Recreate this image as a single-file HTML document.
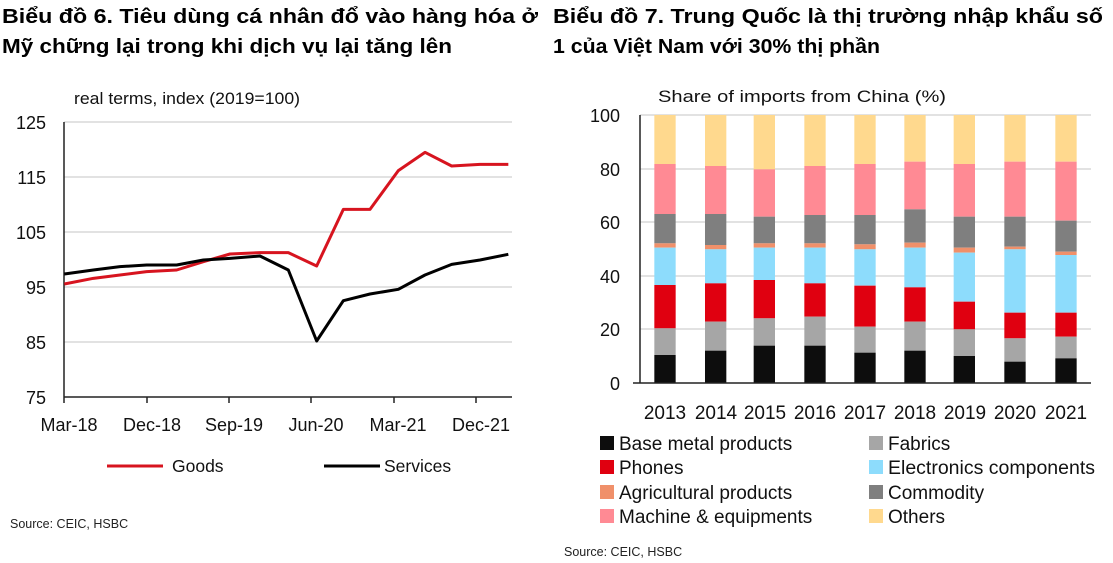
<!DOCTYPE html>
<html><head><meta charset="utf-8"><style>
html,body{margin:0;padding:0;background:#fff;}
svg{display:block;font-family:"Liberation Sans",Arial,sans-serif;}
</style></head><body>
<svg width="1113" height="563" viewBox="0 0 1113 563" xmlns="http://www.w3.org/2000/svg">
<!-- Titles -->
<text x="2" y="23" font-size="20" font-weight="bold" fill="#000" textLength="536" lengthAdjust="spacingAndGlyphs">Biểu đồ 6. Tiêu dùng cá nhân đổ vào hàng hóa ở</text>
<text x="2" y="53" font-size="20" font-weight="bold" fill="#000" textLength="450" lengthAdjust="spacingAndGlyphs">Mỹ chững lại trong khi dịch vụ lại tăng lên</text>
<text x="553" y="23" font-size="20" font-weight="bold" fill="#000" textLength="550" lengthAdjust="spacingAndGlyphs">Biểu đồ 7. Trung Quốc là thị trường nhập khẩu số</text>
<text x="553" y="53" font-size="20" font-weight="bold" fill="#000" textLength="327" lengthAdjust="spacingAndGlyphs">1 của Việt Nam với 30% thị phần</text>

<!-- LEFT CHART -->
<text x="74" y="104" font-size="17" fill="#111" textLength="226" lengthAdjust="spacingAndGlyphs">real terms,  index (2019=100)</text>
<g stroke="#d9d9d9" stroke-width="1.5">
<line x1="64" y1="122" x2="512" y2="122"/>
<line x1="64" y1="177" x2="512" y2="177"/>
<line x1="64" y1="232" x2="512" y2="232"/>
<line x1="64" y1="287" x2="512" y2="287"/>
<line x1="64" y1="342" x2="512" y2="342"/>
</g>
<line x1="64" y1="122" x2="64" y2="397" stroke="#222" stroke-width="1.5"/>
<line x1="64" y1="397" x2="512" y2="397" stroke="#222" stroke-width="1.5"/>
<g stroke="#222" stroke-width="1.5">
<line x1="64" y1="397" x2="64" y2="403"/><line x1="147" y1="397" x2="147" y2="403"/>
<line x1="229" y1="397" x2="229" y2="403"/><line x1="311" y1="397" x2="311" y2="403"/>
<line x1="394" y1="397" x2="394" y2="403"/><line x1="476" y1="397" x2="476" y2="403"/>
</g>
<g font-size="18" fill="#111" text-anchor="end">
<text x="46" y="129">125</text><text x="46" y="184">115</text><text x="46" y="239">105</text>
<text x="46" y="294">95</text><text x="46" y="349">85</text><text x="46" y="404">75</text>
</g>
<g font-size="18" fill="#111" text-anchor="middle">
<text x="69" y="431">Mar-18</text><text x="152" y="431">Dec-18</text><text x="234" y="431">Sep-19</text>
<text x="316" y="431">Jun-20</text><text x="398" y="431">Mar-21</text><text x="481" y="431">Dec-21</text>
</g>
<g transform="translate(0,80) scale(0.33333)" fill="none" stroke-width="9" stroke-linejoin="round">
<polyline stroke="#d7141f" points="193,612 280,595 360,585 440,575 530,570 610,545 690,522 780,518 865,518 950,558 1030,388 1110,388 1195,272 1275,217 1355,258 1440,253 1525,253"/>
<polyline stroke="#000" points="193,582 280,570 360,560 440,555 530,555 610,540 690,535 780,528 865,570 950,783 1030,662 1110,642 1195,628 1275,585 1355,553 1440,540 1525,523"/>
</g>
<line x1="107" y1="466" x2="163" y2="466" stroke="#d7141f" stroke-width="3"/>
<text x="172" y="472" font-size="17.5" fill="#111">Goods</text>
<line x1="324" y1="466" x2="380" y2="466" stroke="#000" stroke-width="3"/>
<text x="384" y="472" font-size="17.5" fill="#111">Services</text>
<text x="10" y="528" font-size="12.5" fill="#222">Source: CEIC, HSBC</text>

<!-- RIGHT CHART -->
<text x="658" y="102" font-size="17" fill="#111" textLength="288" lengthAdjust="spacingAndGlyphs">Share of imports  from China (%)</text>
<g stroke="#d9d9d9" stroke-width="1.5">
<line x1="640" y1="115" x2="1091" y2="115"/>
<line x1="640" y1="169" x2="1091" y2="169"/>
<line x1="640" y1="222" x2="1091" y2="222"/>
<line x1="640" y1="276" x2="1091" y2="276"/>
<line x1="640" y1="329" x2="1091" y2="329"/>
</g>
<g font-size="18" fill="#111" text-anchor="end">
<text x="620" y="122">100</text><text x="620" y="176">80</text><text x="620" y="229">60</text>
<text x="620" y="283">40</text><text x="620" y="336">20</text><text x="620" y="390">0</text>
</g>
<g transform="translate(600,100) scale(0.33333)">
<rect x="163" y="45" width="64" height="147" fill="#ffd98e"/><rect x="163" y="192" width="64" height="150" fill="#ff8a94"/><rect x="163" y="342" width="64" height="88" fill="#7f7f7f"/><rect x="163" y="430" width="64" height="13" fill="#f0906a"/><rect x="163" y="443" width="64" height="112" fill="#8ddcfc"/><rect x="163" y="555" width="64" height="130" fill="#e00010"/><rect x="163" y="685" width="64" height="80" fill="#a6a6a6"/><rect x="163" y="765" width="64" height="83" fill="#0d0d0d"/>
<rect x="315" y="45" width="64" height="153" fill="#ffd98e"/><rect x="315" y="198" width="64" height="144" fill="#ff8a94"/><rect x="315" y="342" width="64" height="93" fill="#7f7f7f"/><rect x="315" y="435" width="64" height="13" fill="#f0906a"/><rect x="315" y="448" width="64" height="102" fill="#8ddcfc"/><rect x="315" y="550" width="64" height="115" fill="#e00010"/><rect x="315" y="665" width="64" height="87" fill="#a6a6a6"/><rect x="315" y="752" width="64" height="96" fill="#0d0d0d"/>
<rect x="461" y="45" width="64" height="163" fill="#ffd98e"/><rect x="461" y="208" width="64" height="142" fill="#ff8a94"/><rect x="461" y="350" width="64" height="80" fill="#7f7f7f"/><rect x="461" y="430" width="64" height="13" fill="#f0906a"/><rect x="461" y="443" width="64" height="97" fill="#8ddcfc"/><rect x="461" y="540" width="64" height="115" fill="#e00010"/><rect x="461" y="655" width="64" height="82" fill="#a6a6a6"/><rect x="461" y="737" width="64" height="111" fill="#0d0d0d"/>
<rect x="613" y="45" width="64" height="153" fill="#ffd98e"/><rect x="613" y="198" width="64" height="147" fill="#ff8a94"/><rect x="613" y="345" width="64" height="85" fill="#7f7f7f"/><rect x="613" y="430" width="64" height="13" fill="#f0906a"/><rect x="613" y="443" width="64" height="107" fill="#8ddcfc"/><rect x="613" y="550" width="64" height="100" fill="#e00010"/><rect x="613" y="650" width="64" height="87" fill="#a6a6a6"/><rect x="613" y="737" width="64" height="111" fill="#0d0d0d"/>
<rect x="763" y="45" width="64" height="147" fill="#ffd98e"/><rect x="763" y="192" width="64" height="153" fill="#ff8a94"/><rect x="763" y="345" width="64" height="88" fill="#7f7f7f"/><rect x="763" y="433" width="64" height="15" fill="#f0906a"/><rect x="763" y="448" width="64" height="109" fill="#8ddcfc"/><rect x="763" y="557" width="64" height="123" fill="#e00010"/><rect x="763" y="680" width="64" height="78" fill="#a6a6a6"/><rect x="763" y="758" width="64" height="90" fill="#0d0d0d"/>
<rect x="913" y="45" width="64" height="140" fill="#ffd98e"/><rect x="913" y="185" width="64" height="143" fill="#ff8a94"/><rect x="913" y="328" width="64" height="100" fill="#7f7f7f"/><rect x="913" y="428" width="64" height="15" fill="#f0906a"/><rect x="913" y="443" width="64" height="119" fill="#8ddcfc"/><rect x="913" y="562" width="64" height="103" fill="#e00010"/><rect x="913" y="665" width="64" height="87" fill="#a6a6a6"/><rect x="913" y="752" width="64" height="96" fill="#0d0d0d"/>
<rect x="1061" y="45" width="64" height="147" fill="#ffd98e"/><rect x="1061" y="192" width="64" height="158" fill="#ff8a94"/><rect x="1061" y="350" width="64" height="93" fill="#7f7f7f"/><rect x="1061" y="443" width="64" height="15" fill="#f0906a"/><rect x="1061" y="458" width="64" height="147" fill="#8ddcfc"/><rect x="1061" y="605" width="64" height="83" fill="#e00010"/><rect x="1061" y="688" width="64" height="80" fill="#a6a6a6"/><rect x="1061" y="768" width="64" height="80" fill="#0d0d0d"/>
<rect x="1213" y="45" width="64" height="140" fill="#ffd98e"/><rect x="1213" y="185" width="64" height="165" fill="#ff8a94"/><rect x="1213" y="350" width="64" height="90" fill="#7f7f7f"/><rect x="1213" y="440" width="64" height="8" fill="#f0906a"/><rect x="1213" y="448" width="64" height="190" fill="#8ddcfc"/><rect x="1213" y="638" width="64" height="77" fill="#e00010"/><rect x="1213" y="715" width="64" height="70" fill="#a6a6a6"/><rect x="1213" y="785" width="64" height="63" fill="#0d0d0d"/>
<rect x="1366" y="45" width="64" height="140" fill="#ffd98e"/><rect x="1366" y="185" width="64" height="177" fill="#ff8a94"/><rect x="1366" y="362" width="64" height="93" fill="#7f7f7f"/><rect x="1366" y="455" width="64" height="10" fill="#f0906a"/><rect x="1366" y="465" width="64" height="173" fill="#8ddcfc"/><rect x="1366" y="638" width="64" height="72" fill="#e00010"/><rect x="1366" y="710" width="64" height="65" fill="#a6a6a6"/><rect x="1366" y="775" width="64" height="73" fill="#0d0d0d"/>
</g>
<line x1="640" y1="115" x2="640" y2="383" stroke="#222" stroke-width="1.5"/>
<line x1="633" y1="383" x2="1091" y2="383" stroke="#222" stroke-width="1.5"/>
<g font-size="19" fill="#111" text-anchor="middle">
<text x="665" y="419">2013</text><text x="716" y="419">2014</text><text x="765" y="419">2015</text>
<text x="815" y="419">2016</text><text x="865" y="419">2017</text><text x="915" y="419">2018</text>
<text x="965" y="419">2019</text><text x="1015" y="419">2020</text><text x="1066" y="419">2021</text>
</g>
<g font-size="19" fill="#111">
<rect x="600" y="436" width="14" height="14" fill="#0d0d0d"/><text x="619" y="450">Base metal products</text>
<rect x="600" y="460" width="14" height="14" fill="#e00010"/><text x="619" y="474">Phones</text>
<rect x="600" y="485" width="14" height="14" fill="#f0906a"/><text x="619" y="499">Agricultural products</text>
<rect x="600" y="509" width="14" height="14" fill="#ff8a94"/><text x="619" y="523">Machine &amp; equipments</text>
<rect x="869" y="436" width="14" height="14" fill="#a6a6a6"/><text x="888" y="450">Fabrics</text>
<rect x="869" y="460" width="14" height="14" fill="#8ddcfc"/><text x="888" y="474" textLength="207" lengthAdjust="spacingAndGlyphs">Electronics components</text>
<rect x="869" y="485" width="14" height="14" fill="#7f7f7f"/><text x="888" y="499">Commodity</text>
<rect x="869" y="509" width="14" height="14" fill="#ffd98e"/><text x="888" y="523">Others</text>
</g>
<text x="564" y="556" font-size="12.5" fill="#222">Source: CEIC, HSBC</text>
</svg>
</body></html>
